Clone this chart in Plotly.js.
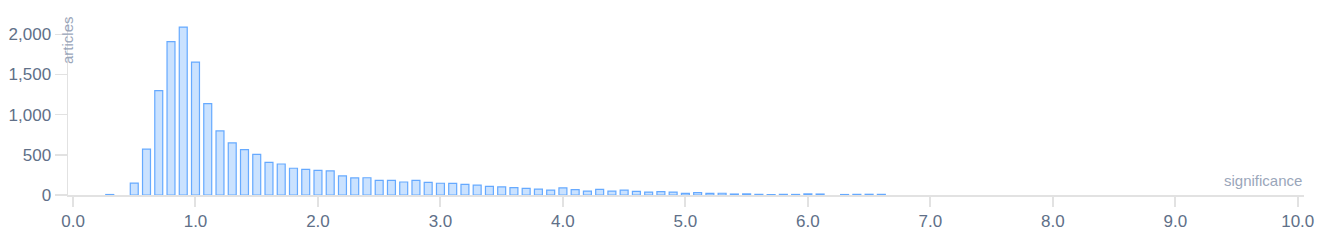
<!DOCTYPE html>
<html>
<head>
<meta charset="utf-8">
<script src="https://cdn.plot.ly/plotly-3.0.1.min.js"></script>
<style>
  html, body { margin: 0; padding: 0; background: #ffffff; }
  #chart { width: 1320px; height: 240px; }
</style>
</head>
<body>
<div id="chart"></div>
<script>
// significance bins (bin centres); empty bins are left out
const significance = [
  0.3, 0.5, 0.6, 0.7, 0.8, 0.9, 1.0, 1.1, 1.2,
  1.3, 1.4, 1.5, 1.6, 1.7, 1.8, 1.9, 2.0, 2.1, 2.2,
  2.3, 2.4, 2.5, 2.6, 2.7, 2.8, 2.9, 3.0, 3.1, 3.2,
  3.3, 3.4, 3.5, 3.6, 3.7, 3.8, 3.9, 4.0, 4.1, 4.2,
  4.3, 4.4, 4.5, 4.6, 4.7, 4.8, 4.9, 5.0, 5.1, 5.2,
  5.3, 5.4, 5.5, 5.6, 5.7, 5.8, 5.9, 6.0, 6.1,
  6.3, 6.4, 6.5, 6.6
];
// number of articles per bin
const articles = [
  6, 148, 570, 1298, 1908, 2090, 1655, 1137, 797,
  648, 565, 506, 407, 386, 333, 320, 307, 300, 237,
  212, 215, 183, 183, 162, 183, 158, 146, 145, 133,
  122, 108, 101, 93, 83, 73, 60, 89, 66, 48,
  69, 48, 60, 46, 37, 41, 37, 19, 29, 21,
  22, 12, 14, 8, 5, 8, 7, 14, 12,
  6, 8, 9, 8
];
const xTickVals = [0, 1, 2, 3, 4, 5, 6, 7, 8, 9, 10];
const yTickVals = [0, 500, 1000, 1500, 2000];
const xTitle = 'significance';
const yTitle = 'articles';

const labelColor = '#607088';
const titleColor = '#9aa6ba';
const axisGray = '#e2e2e2';
const fontFamily = '"Liberation Sans", Arial, Helvetica, sans-serif';

const trace = {
  type: 'bar',
  x: significance,
  y: articles,
  marker: {
    color: 'rgba(100,170,255,0.34)',
    line: { color: 'rgba(95,165,255,0.95)', width: 1.2 }
  },
  hoverinfo: 'x+y'
};

const layout = {
  width: 1320,
  height: 240,
  margin: { l: 68, r: 16, t: 18, b: 45 },
  paper_bgcolor: '#ffffff',
  plot_bgcolor: '#ffffff',
  bargap: 0.35,
  showlegend: false,
  font: { family: fontFamily, size: 17, color: labelColor },
  xaxis: {
    range: [-0.041, 10.051],
    tickvals: xTickVals,
    tickformat: '.1f',
    ticks: 'outside',
    ticklen: 10,
    tickwidth: 2,
    tickcolor: axisGray,
    showgrid: false,
    zeroline: false,
    showline: true,
    linecolor: axisGray,
    linewidth: 2,
    tickfont: { family: fontFamily, size: 17, color: labelColor },
    fixedrange: true
  },
  yaxis: {
    range: [0, 2203],
    tickvals: yTickVals,
    tickformat: ',d',
    ticks: 'outside',
    ticklen: 12,
    tickwidth: 1.5,
    tickcolor: axisGray,
    showgrid: false,
    zeroline: false,
    showline: true,
    linecolor: axisGray,
    linewidth: 1.5,
    tickfont: { family: fontFamily, size: 17, color: labelColor },
    fixedrange: true
  },
  annotations: [
    {
      text: xTitle,
      xref: 'paper', yref: 'paper',
      x: 1, y: 0,
      xanchor: 'right', yanchor: 'bottom',
      yshift: 4,
      showarrow: false,
      font: { family: fontFamily, size: 15, color: titleColor }
    },
    {
      text: yTitle,
      xref: 'paper', yref: 'paper',
      x: 0, y: 1,
      xanchor: 'center', yanchor: 'top',
      textangle: -90,
      xshift: -1,
      yshift: 4,
      showarrow: false,
      font: { family: fontFamily, size: 15, color: titleColor }
    }
  ]
};

Plotly.newPlot('chart', [trace], layout, { displayModeBar: false, staticPlot: true });
</script>
</body>
</html>
